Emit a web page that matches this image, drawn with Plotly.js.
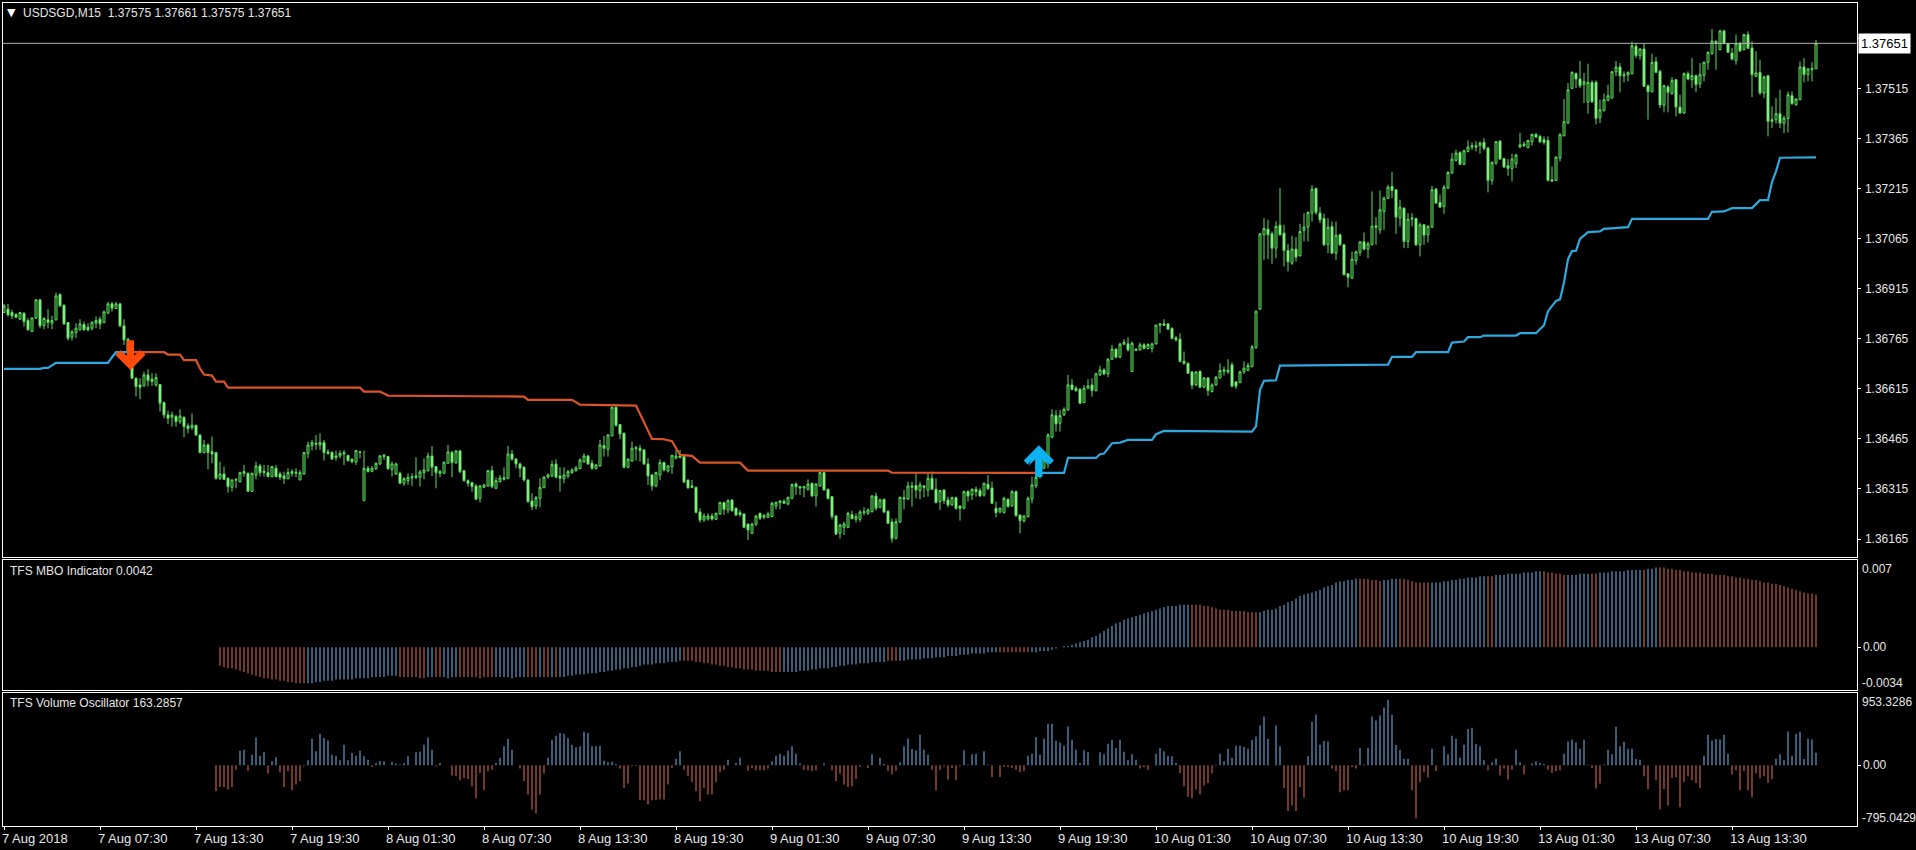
<!DOCTYPE html>
<html><head><meta charset="utf-8">
<script src="https://cdn.plot.ly/plotly-3.0.1.min.js"></script>
<style>html,body{margin:0;padding:0;background:#000}#c{width:1916px;height:850px}</style>
</head><body><div id="c"></div>
<script>
// Prices in 1e-5 units (136823 = 1.36823), one value per M15 bar
const opens=[
136844,136854,136844,136838,136824,136842,136820,136787,136827,136882,136805,136822,136812,136822,136898,136866,136814,136770,136784,136792,136808,136800,136797,136812,136824,136814,136842,136870,136856,136870,136804,136764,136727,136647,136627,136624,136657,136644,136627,136628,136574,136537,136530,136532,136517,136530,136504,136499,136506,136477,136424,136447,136427,136424,136347,136360,136347,136320,136344,136337,136362,136362,136308,136357,136384,136368,136364,136352,136377,136360,136354,136346,136367,136362,136342,
136360,136422,136444,136452,136447,136454,136426,136425,136409,136414,136420,136416,136404,136396,136426,136280,136377,136367,136376,136390,136412,136412,136374,136360,136362,136332,136340,136348,136350,136350,136364,136370,136414,136382,136362,136362,136392,136424,136394,136429,136370,136340,136334,136324,136287,136320,136324,136370,136317,136337,136344,136347,136420,136405,136390,136380,136342,136279,136264,136287,136319,136350,136354,136390,136354,136346,136354,136364,136370,136376,136396,136414,136392,136376,136384,
136445,136434,136474,136560,136508,136482,136380,136399,136439,136437,136432,136390,136357,136324,136357,136394,136369,136382,136407,136414,136412,136342,136324,136320,136246,136222,136225,136234,136224,136240,136274,136252,136282,136257,136244,136240,136210,136182,136209,136242,136230,136230,136232,136264,136274,136278,136270,136287,136330,136322,136318,136314,136332,136294,136324,136364,136314,136292,136234,136182,136200,136200,136238,136224,136224,136244,136242,136247,136294,136260,136284,136248,136216,136167,136216,
136289,136285,136324,136325,136310,136324,136312,136347,136314,136277,136312,136282,136267,136289,136264,136257,136307,136297,136314,136310,136297,136329,136318,136257,136246,136244,136284,136264,136307,136237,136220,136232,136285,136324,136352,136377,136402,136470,136535,136512,136537,136552,136627,136617,136614,136574,136617,136627,136610,136657,136672,136660,136704,136734,136710,136749,136750,136667,136730,136732,136747,136736,136736,136750,136806,136810,136810,136796,136768,136764,136698,136692,136666,136627,136668,136620,136648,136607,136627,136648,
136668,136666,136687,136636,136634,136666,136671,136682,136739,
136854,137077,137094,137080,137037,137106,137082,137030,136992,137034,137014,137090,137100,137142,137216,137142,137126,137047,137102,137022,137077,137047,136960,136947,137000,137024,137056,137034,137047,137099,137092,137147,137186,137222,137212,137128,137157,137057,137124,137126,137047,137107,137077,137100,137214,137174,137162,137217,137262,137300,137324,137288,137327,137340,137344,137345,137354,137337,137240,137292,137358,137306,137284,137276,137290,137340,
137344,137338,137356,137378,137372,137362,137360,137242,137240,137307,137374,137412,137516,137560,137544,137527,137475,137534,137534,137428,137450,137480,137487,137566,137580,137557,137556,137560,137642,137614,137634,137524,137506,137596,137567,137466,137520,137500,137542,137460,137442,137560,137542,137554,137530,137555,137594,137620,137657,137632,137688,137650,137622,137600,137650,137632,137677,137637,137552,137564,137502,137554,137417,137422,137440,137412,137426,137494,137467,137482,137580,137558,137572,137575];
const closes=[
136864,136837,136834,136830,136844,136817,136792,136828,136882,136804,136826,136814,136820,136894,136864,136810,136767,136786,136797,136810,136792,136792,136815,136820,136810,136846,136870,136857,136870,136804,136762,136727,136647,136622,136620,136657,136640,136637,136649,136572,136537,136527,136537,136517,136534,136502,136496,136506,136477,136424,136447,136424,136420,136347,136360,136344,136322,136342,136342,136364,136367,136308,136362,136384,136364,136364,136352,136382,136352,136350,136346,136364,136362,136365,136364,
136424,136447,136454,136449,136454,136424,136422,136405,136414,136422,136424,136400,136397,136430,136425,136377,136367,136377,136392,136414,136416,136376,136390,136390,136332,136346,136350,136352,136354,136366,136372,136414,136380,136364,136367,136395,136426,136394,136429,136367,136340,136332,136322,136284,136324,136327,136370,136322,136340,136348,136349,136420,136404,136390,136377,136342,136277,136262,136289,136320,136350,136357,136388,136350,136347,136357,136367,136372,136378,136402,136414,136390,136377,136387,136447,
136437,136477,136560,136506,136480,136380,136404,136437,136436,136430,136390,136354,136324,136364,136394,136372,136384,136416,136414,136410,136336,136318,136320,136245,136222,136234,136234,136225,136242,136274,136254,136280,136250,136237,136238,136200,136192,136210,136234,136227,136235,136240,136272,136275,136279,136272,136290,136328,136322,136318,136322,136330,136294,136330,136364,136312,136286,136232,136180,136207,136210,136242,136226,136232,136246,136247,136252,136294,136257,136282,136246,136212,136166,136217,136290,
136285,136324,136320,136312,136327,136320,136347,136314,136274,136310,136280,136267,136289,136257,136257,136307,136294,136314,136307,136294,136332,136316,136272,136244,136257,136287,136262,136307,136235,136220,136234,136287,136327,136350,136382,136402,136477,136537,136510,136535,136554,136627,136614,136610,136572,136617,136624,136610,136660,136672,136660,136704,136734,136710,136749,136754,136732,136752,136734,136747,136736,136748,136750,136806,136810,136806,136794,136766,136762,136697,136692,136662,136626,136666,136620,136648,136610,136627,136650,136670,
136672,136671,136623,136623,136666,136677,136685,136741,136848,
137080,137096,137077,137037,137102,137077,137030,136996,137034,137010,137087,137100,137144,137214,137144,137122,137047,137100,137022,137076,137047,136957,136950,137004,137026,137056,137034,137050,137103,137104,137152,137187,137220,137210,137130,137160,137057,137124,137127,137047,137107,137076,137102,137212,137172,137160,137220,137264,137304,137322,137288,137329,137340,137344,137340,137352,137336,137240,137294,137356,137304,137280,137276,137304,137316,137347,
137349,137360,137378,137370,137356,137354,137240,137238,137310,137377,137416,137512,137564,137544,137524,137536,137534,137476,137426,137452,137482,137494,137566,137580,137554,137554,137564,137644,137614,137634,137522,137506,137594,137564,137466,137524,137504,137540,137460,137442,137560,137544,137554,137527,137557,137594,137624,137658,137650,137688,137650,137624,137604,137650,137628,137677,137636,137557,137562,137502,137550,137417,137422,137440,137412,137427,137497,137470,137484,137580,137557,137574,137576,137651];
const highs=[
136870,136870,136852,136842,136846,136844,136827,136828,136884,136884,136830,136854,136834,136904,136902,136868,136814,136792,136812,136824,136817,136812,136817,136832,136832,136850,136876,136876,136876,136872,136824,136767,136727,136650,136647,136667,136674,136662,136662,136630,136577,136550,136547,136537,136554,136532,136512,136542,136507,136477,136462,136452,136472,136424,136397,136382,136350,136344,136347,136367,136387,136364,136364,136397,136390,136387,136387,136384,136387,136367,136367,136377,136374,136377,136372,
136424,136457,136462,136477,136482,136462,136434,136427,136430,136430,136432,136417,136407,136432,136429,136430,136384,136384,136394,136417,136420,136414,136397,136394,136367,136350,136362,136362,136410,136372,136407,136424,136444,136384,136372,136397,136447,136429,136432,136432,136372,136344,136337,136330,136327,136329,136372,136384,136350,136357,136380,136444,136432,136407,136394,136384,136344,136302,136294,136347,136354,136362,136400,136404,136380,136380,136372,136377,136384,136407,136422,136417,136402,136390,136462,
136474,136479,136562,136570,136510,136484,136407,136457,136444,136447,136434,136407,136360,136367,136404,136397,136387,136417,136432,136432,136417,136342,136342,136322,136257,136242,136242,136242,136244,136277,136277,136284,136284,136260,136252,136242,136210,136214,136237,136244,136240,136247,136277,136277,136282,136284,136292,136332,136334,136324,136324,136344,136334,136332,136367,136367,136316,136294,136236,136210,136217,136247,136250,136242,136252,136260,136257,136297,136304,136287,136286,136252,136226,136227,136292,
136312,136337,136337,136362,136337,136327,136362,136367,136347,136312,136314,136292,136292,136292,136264,136310,136312,136317,136322,136317,136334,136357,136337,136277,136260,136292,136287,136312,136310,136237,136237,136292,136352,136357,136387,136407,136482,136554,136552,136552,136560,136657,136644,136624,136617,136627,136644,136647,136664,136684,136677,136707,136747,136737,136754,136764,136770,136757,136737,136754,136752,136752,136754,136808,136812,136824,136812,136800,136774,136782,136727,136694,136668,136668,136670,136650,136650,136632,136654,136692,
136682,136704,136695,136639,136670,136698,136693,136747,136850,
137082,137127,137122,137087,137117,137217,137107,137050,137074,137070,137110,137142,137147,137226,137218,137160,137140,137127,137117,137117,137080,137050,136962,137027,137030,137057,137084,137057,137207,137130,137210,137192,137227,137266,137214,137182,137159,137142,137142,137128,137114,137109,137106,137224,137217,137197,137227,137268,137322,137332,137327,137332,137360,137354,137358,137357,137367,137340,137297,137358,137360,137307,137304,137320,137320,137383,
137357,137362,137380,137382,137377,137372,137372,137282,137312,137382,137484,137532,137567,137564,137598,137562,137590,137540,137540,137482,137500,137527,137568,137598,137592,137567,137567,137656,137652,137637,137652,137527,137620,137610,137572,137527,137526,137550,137544,137497,137564,137567,137607,137557,137592,137597,137627,137694,137660,137692,137692,137652,137637,137677,137656,137680,137687,137657,137627,137602,137554,137557,137462,137487,137512,137434,137507,137507,137487,137597,137607,137577,137594,137661];
const lows=[
136842,136832,136824,136827,136822,136802,136790,136787,136824,136797,136794,136797,136794,136820,136860,136807,136760,136760,136767,136790,136790,136787,136790,136797,136794,136812,136840,136847,136854,136800,136747,136722,136644,136592,136584,136622,136622,136624,136622,136547,136527,136510,136502,136502,136510,136470,136482,136492,136474,136422,136422,136374,136392,136342,136342,136342,136304,136307,136317,136334,136352,136306,136306,136344,136352,136352,136350,136350,136350,136342,136330,136344,136352,136350,136342,
136357,136407,136430,136432,136432,136400,136417,136402,136400,136407,136387,136397,136392,136387,136407,136280,136364,136366,136372,136387,136402,136372,136352,136357,136330,136324,136327,136324,136344,136322,136344,136367,136354,136317,136350,136360,136390,136350,136390,136362,136337,136322,136307,136282,136274,136317,136322,136317,136315,136334,136340,136344,136400,136377,136350,136337,136274,136252,136254,136260,136317,136347,136350,136347,136307,136332,136347,136360,136367,136374,136394,136387,136372,136374,136382,
136412,136412,136474,136502,136464,136377,136377,136397,136400,136397,136387,136327,136310,136320,136342,136367,136364,136360,136404,136407,136332,136317,136317,136242,136214,136216,136220,136220,136222,136237,136237,136242,136247,136234,136232,136197,136162,136180,136204,136222,136224,136228,136230,136254,136254,136270,136266,136284,136297,136297,136290,136310,136292,136262,136322,136310,136284,136224,136177,136166,136177,136197,136224,136214,136216,136236,136237,136244,136250,136257,136242,136210,136154,136164,136214,
136254,136282,136262,136287,136284,136290,136292,136312,136272,136252,136270,136260,136264,136252,136220,136254,136277,136282,136292,136292,136292,136312,136270,136230,136242,136242,136260,136262,136232,136182,136214,136230,136272,136317,136347,136377,136377,136467,136487,136487,136534,136550,136610,136606,136570,136572,136614,136592,136607,136654,136656,136650,136702,136707,136707,136747,136727,136666,136730,136730,136734,136734,136724,136748,136782,136804,136792,136764,136757,136695,136687,136660,136614,136624,136617,136618,136594,136604,136624,136646,
136655,136660,136620,136615,136632,136660,136668,136679,136735,
136852,137002,137004,136990,137007,137074,136982,136967,136987,136997,137012,137057,137057,137117,137137,137112,137044,137022,137020,137002,137044,136956,136920,136945,136987,137014,137030,137007,137046,137047,137080,137092,137184,137187,137080,137102,137037,137037,137102,137044,137012,137047,137054,137097,137170,137157,137140,137214,137260,137297,137286,137286,137324,137332,137327,137320,137330,137204,137227,137286,137302,137278,137254,137237,137277,137337,
137340,137337,137344,137367,137352,137347,137237,137236,137238,137297,137372,137410,137514,137517,137517,137472,137440,137472,137408,137412,137446,137477,137485,137552,137504,137534,137537,137558,137607,137602,137520,137422,137504,137562,137457,137444,137444,137497,137432,137440,137440,137540,137517,137504,137517,137537,137572,137617,137572,137630,137648,137622,137600,137587,137626,137630,137634,137490,137550,137497,137487,137372,137397,137410,137397,137382,137384,137467,137464,137480,137534,137537,137537,137575];
// Trend line: bar index, then price in 1e-5 units
const blueAIdx=[0,9,10,11,13,26,27,28,31];
const blueAVal=[136675,136675,136678,136678,136693,136693,136710,136725,136725];
const orangeIdx=[31,40,41,44,45,48,49,50,52,53,55,56,89,90,94,96,118,130,131,142,144,158,162,165,167,169,172,174,184,186,221,222,258];
const orangeVal=[136725,136725,136718,136718,136701,136701,136676,136658,136655,136637,136637,136619,136619,136607,136607,136595,136593,136592,136582,136582,136568,136565,136465,136464,136458,136417,136414,136394,136394,136370,136370,136364,136363];
const blueBIdx=[258,265,266,273,274,275,277,279,281,287,288,290,312,313,314,315,318,319,346,347,352,353,361,362,365,366,369,370,378,379,383,385,386,388,389,390,391,392,393,394,396,399,400,406,407,426,427,430,432,437,439,441,442,443,444,453];
const blueBVal=[136363,136363,136408,136408,136419,136421,136452,136454,136462,136462,136479,136489,136487,136503,136612,136639,136641,136685,136688,136711,136711,136725,136725,136754,136757,136770,136770,136775,136775,136782,136782,136806,136848,136879,136883,136934,137004,137028,137029,137065,137085,137087,137095,137100,137125,137125,137146,137147,137157,137157,137181,137181,137235,137267,137308,137309];
// TFS MBO Indicator, in 1e-4 units, first value belongs to bar 54
const mboStart=54;
const mboValues=[-15,-16,-17,-17,-18,-19,-20,-21,-22,-23,-24,-25,-25,-26,-26,-27,-27,-28,-28,-29,-29,-29,
-29,-29,-28,-28,-27,-27,-27,-26,-26,-26,-26,-26,-25,-25,-25,-25,-24,-24,-24,-24,-23,-23,-23,
-24,-24,-24,-24,-24,-25,-25,-24,-24,-24,-24,-24,-25,-24,-24,-24,-24,-24,-24,-24,-25,-24,-24,-24,-24,-24,-24,-24,-25,-24,-24,-24,-24,-24,-24,-24,-24,-24,-24,
-24,-24,-24,-23,-23,-22,-22,-22,-21,-21,-21,-20,-20,-19,-19,-18,-18,-17,-17,-16,-16,-15,
-14,-14,-14,-13,-13,-13,-12,-12,-12,-11,
-11,-11,-11,-12,-12,-13,-13,-14,-14,-15,-15,-16,-16,-17,-17,-18,-18,-18,-19,-19,-19,-19,-20,-20,-20,
-20,-20,-20,-20,-19,-19,-19,-18,-18,-17,-17,-17,-16,-16,-15,-15,-14,-14,-14,-13,-13,-13,-12,-12,-12,-12,
-11,-11,-11,
-11,-11,-10,-10,-10,-10,-9,-9,-9,-8,-8,-8,-7,-7,-7,-6,-6,-6,-5,-5,-5,-5,-4,-4,-4,
-4,-4,-4,-4,-4,-4,-4,-4,
-4,-4,-3,-3,-3,-2,-1,0,1,1,2,3,4,5,6,8,9,11,13,15,17,19,20,22,23,24,25,26,27,28,29,30,31,32,33,33,33,34,34,34,
34,34,34,33,33,32,31,30,30,30,29,29,29,29,28,28,28,
28,29,30,30,31,33,
34,36,37,39,41,42,43,44,45,46,48,49,50,52,53,53,54,54,55,
55,55,55,54,54,53,
54,54,55,55,
55,55,54,53,52,52,52,52,
52,52,52,53,53,54,54,55,55,56,56,56,57,57,
57,57,
58,58,58,59,59,59,59,60,60,60,61,61,
61,60,60,59,59,58,
58,58,58,59,59,59,
59,59,
60,60,60,61,61,61,61,62,62,62,62,62,
63,63,64,
64,64,63,63,62,62,61,61,60,60,60,59,59,59,58,58,58,57,57,56,56,55,55,54,54,53,52,52,51,51,50,49,48,47,46,45,44,43,43,42];
// Last bar of each colour run, alternating red, blue, red, ...
const mboRunEnds=[75,98,105,107,109,113,122,130,133,134,136,137,138,169,194,220,223,248,256,296,313,338,344,348,356,370,372,384,390,396,398,409,410,413,453];
// TFS Volume Oscillator, first value belongs to bar 53
const volStart=53;
const volValues=[-339,-283,-283,-318,-283,-57,191,204,-78,139,365,126,170,-109,52,104,-91,-283,-78,-326,-252,-209,-13,65,348,183,413,357,326,139,126,65,270,65,161,126,191,117,74,-22,30,57,52,0,43,22,9,30,117,0,170,178,270,365,204,-13,30,0,0,-135,-144,-196,-165,-178,-274,-435,-100,-326,-78,-57,30,96,248,348,204,0,-43,-209,-383,-579,-631,-383,-109,96,335,387,422,413,357,270,235,248,439,422,248,248,257,61,39,48,17,-43,-296,-239,-13,-9,-457,
-457,-513,-457,-457,-448,-448,-252,-35,87,183,-57,-144,-218,-339,-470,-296,-383,-383,-222,-91,-57,74,0,30,100,0,-70,-35,-65,-65,-65,-43,52,126,152,126,191,248,152,22,-57,-65,-78,-65,0,22,0,-65,-209,-109,-252,-283,-274,-178,-22,0,-35,143,0,100,17,-78,-122,-70,39,248,352,213,196,400,204,139,-57,-326,-57,-13,-187,-35,-196,-13,196,9,143,152,0,183,9,-152,0,-152,-22,-22,-35,-57,-91,-78,126,152,370,139,352,544,544,322,300,257,509,335,204,30,196,170,0,0,170,143,283,335,222,335,178,65,143,74,-43,-26,-57,0,152,226,183,126,117,30,-100,-274,-413,-431,-318,-383,-265,-231,-109,9,152,52,217,100,257,257,239,217,335,378,522,639,348,0,522,248,
-296,-600,-526,-600,-283,-426,117,570,666,270,318,313,-43,-78,-352,-326,-326,-22,-43,226,9,226,639,587,653,757,857,661,265,204,87,87,-326,-692,-222,-91,-161,217,-74,0,248,143,387,348,100,270,474,492,278,248,65,-65,39,87,-135,-43,-187,-57,204,39,-122,0,22,52,30,17,-57,-100,-78,-65,152,313,339,300,217,335,9,-35,-305,-239,9,204,143,505,248,309,217,217,83,74,-144,-309,0,-196,-579,-309,-526,-165,-157,-548,-218,-144,-196,-231,-296,126,400,322,344,339,400,152,-122,-65,-326,-74,-326,-418,-109,-170,-144,-231,-178,87,143,65,444,126,413,439,83,348,339,163];
const priceTicks=[1.36165,1.36315,1.36465,1.36615,1.36765,1.36915,1.37065,1.37215,1.37365,1.37515,1.37665];
const timeIdx=[0,24,48,72,96,120,144,168,192,216,240,264,288,312,336,360,384,408,432];
const timeLabels=['7 Aug 2018','7 Aug 07:30','7 Aug 13:30','7 Aug 19:30','8 Aug 01:30','8 Aug 07:30','8 Aug 13:30','8 Aug 19:30','9 Aug 01:30','9 Aug 07:30','9 Aug 13:30','9 Aug 19:30','10 Aug 01:30','10 Aug 07:30','10 Aug 13:30','10 Aug 19:30','13 Aug 01:30','13 Aug 07:30','13 Aug 13:30'];
const lastPrice=1.37651, sellSignal=[31.6,1.36672], buySignal=[258.7,1.36446];

const P=v=>v/1e5, W=1916, H=850, RED='#d0654e', BLUE='#64a8d8', OR='#dc5429', LB='#2fa8de';
const bars=opens.map((_,i)=>i);
const FONT='"Liberation Sans",Arial,sans-serif', TXT='#e6e6e6';
const mboX=mboValues.map((_,i)=>i+mboStart);
let run=0;
const mboColors=mboX.map(i=>{while(i>mboRunEnds[run])run++;return run%2?BLUE:RED;});
const volX=volValues.map((_,i)=>i+volStart);
const traces=[
 {type:'candlestick',x:bars,open:opens.map(P),high:highs.map(P),low:lows.map(P),close:closes.map(P),xaxis:'x',yaxis:'y',whiskerwidth:0,hoverinfo:'skip',
  increasing:{line:{color:'#5cdc5c',width:1},fillcolor:'#0b2a0b'},decreasing:{line:{color:'#5cdc5c',width:1},fillcolor:'#b0f7a8'}},
 {type:'scatter',mode:'lines',x:blueAIdx,y:blueAVal.map(P),line:{color:LB,width:2.2},xaxis:'x',yaxis:'y'},
 {type:'scatter',mode:'lines',x:orangeIdx,y:orangeVal.map(P),line:{color:OR,width:2.2},xaxis:'x',yaxis:'y'},
 {type:'scatter',mode:'lines',x:blueBIdx,y:blueBVal.map(P),line:{color:LB,width:2.2},xaxis:'x',yaxis:'y'},
 {type:'bar',x:mboX,y:mboValues.map(v=>v*1e-4),width:0.28,marker:{color:mboColors,line:{width:0}},xaxis:'x2',yaxis:'y2'},
 {type:'bar',x:volX,y:volValues,width:0.28,marker:{color:volValues.map(v=>v>=0?BLUE:RED),line:{width:0}},xaxis:'x3',yaxis:'y3'}
];
const dom=(t,b)=>[1-b/H,1-t/H];
const xr=[-0.375,463.125], xd=[2.5/W,1856.5/W];
const axBase={showline:true,mirror:true,linecolor:'#ffffff',linewidth:1,showgrid:false,zeroline:false,fixedrange:true};
const fx={family:FONT,size:13,color:TXT};
const fy={family:FONT,size:12,color:TXT};
const note=(text,px,yref,y,extra)=>Object.assign({text,xref:'paper',x:px/W,yref,y,showarrow:false,xanchor:'left',font:fy},extra||{});
const signal=(pt,ay,color,head,size)=>({x:pt[0],y:pt[1],xref:'x',yref:'y',ax:0,ay,axref:'pixel',ayref:'pixel',text:'',showarrow:true,arrowhead:head,arrowwidth:7,arrowsize:size,arrowcolor:color,standoff:0});
const layout={
 width:W,height:H,margin:{l:0,r:0,t:0,b:0},paper_bgcolor:'#000',plot_bgcolor:'#000',showlegend:false,hovermode:false,barmode:'overlay',boxgap:0.28,
 font:fx,
 xaxis:Object.assign({},axBase,{domain:xd,range:xr,anchor:'y',showticklabels:false,ticks:'',rangeslider:{visible:false}}),
 xaxis2:Object.assign({},axBase,{domain:xd,range:xr,anchor:'y2',showticklabels:false,ticks:''}),
 xaxis3:Object.assign({},axBase,{domain:xd,range:xr,anchor:'y3',tickmode:'array',tickvals:timeIdx,ticktext:timeLabels,ticks:'outside',ticklen:3,tickcolor:'#fff',ticklabelposition:'outside right',ticklabelshift:-3,tickfont:fx,tickangle:0}),
 yaxis:Object.assign({},axBase,{domain:dom(3,556.5),range:[1.36165-17.5/33356,1.37515+85.7/33356],side:'right',anchor:'x',tickmode:'array',tickvals:priceTicks,tickformat:'.5f',ticks:'outside',ticklen:3,tickcolor:'#fff',ticklabelstandoff:2,tickfont:fy}),
 yaxis2:Object.assign({},axBase,{domain:dom(560,689.5),range:[-0.0034,0.007],side:'right',anchor:'x2',tickmode:'array',tickvals:[0],ticktext:['0.00'],ticks:'outside',ticklen:3,tickcolor:'#fff',tickfont:fy}),
 yaxis3:Object.assign({},axBase,{domain:dom(692.5,826),range:[-795.0429,953.3286],side:'right',anchor:'x3',tickmode:'array',tickvals:[0],ticktext:['0.00'],ticks:'outside',ticklen:3,tickcolor:'#fff',tickfont:fy}),
 shapes:[{type:'line',xref:'x domain',x0:0,x1:1,yref:'y',y0:lastPrice,y1:lastPrice,line:{color:'#b4b4b4',width:1}}],
 annotations:[
  note('▼',5,'paper',1-13/H,{font:{family:'DejaVu Sans',size:11,color:'#fff'},yanchor:'middle'}),
  note('USDSGD,M15\u00a0\u00a01.37575 1.37661 1.37575 1.37651',21,'paper',1-13/H,{yanchor:'middle'}),
  note('TFS MBO Indicator 0.0042',8,'paper',1-570.7/H,{yanchor:'middle'}),
  note('TFS Volume Oscillator 163.2857',8,'paper',1-703/H,{yanchor:'middle'}),
  note(lastPrice.toFixed(5),1857.5,'y',lastPrice,{font:{family:FONT,size:13,color:'#000'},bgcolor:'#fff',yanchor:'middle',borderpad:2}),
  note('0.007',1860,'paper',1-568.5/H,{yanchor:'middle'}),
  note('-0.0034',1860,'paper',1-682.7/H,{yanchor:'middle'}),
  note('953.3286',1860,'paper',1-701.7/H,{yanchor:'middle'}),
  note('-795.0429',1860,'paper',1-818.3/H,{yanchor:'middle'}),
  signal(sellSignal,-31,'#ff4a0a',4,0.72),
  signal(sellSignal,-31,'#ff4a0a',3,0.5),
  signal(buySignal,33,'#0db2f0',4,0.72),
  signal(buySignal,33,'#0db2f0',3,0.5)
 ]
};
Plotly.newPlot('c',traces,layout,{displayModeBar:false,staticPlot:true});
</script></body></html>
